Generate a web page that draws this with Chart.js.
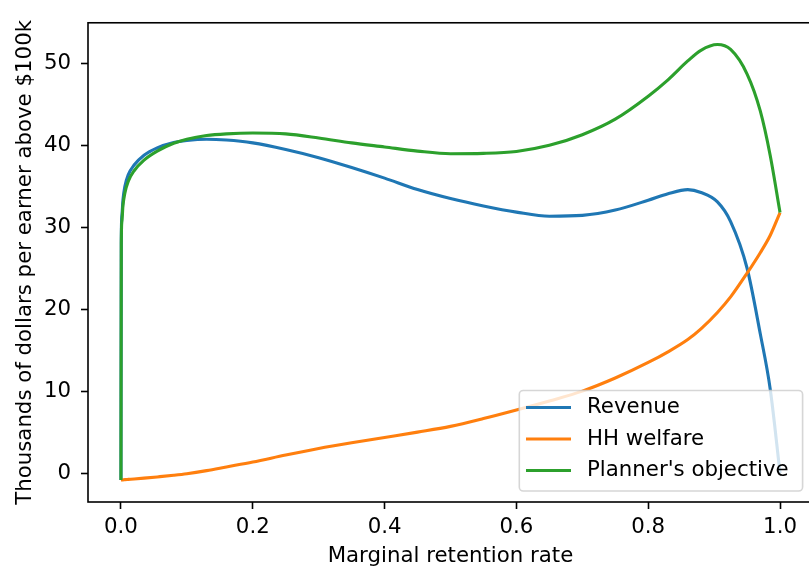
<!DOCTYPE html>
<html><head><meta charset="utf-8">
<script src="https://cdn.jsdelivr.net/npm/chart.js@4"></script>
<style>html,body{margin:0;padding:0;overflow:hidden;background:#fff;width:809px;height:571px}
canvas{display:block}</style></head>
<body><canvas id="c" width="813" height="571"></canvas>
<script>
const retention = [0, 0.0005, 0.0015, 0.003, 0.006, 0.011, 0.02, 0.035, 0.055, 0.08, 0.1, 0.13, 0.16, 0.2, 0.25, 0.3, 0.35, 0.4, 0.45, 0.5, 0.55, 0.6, 0.65, 0.7, 0.75, 0.8, 0.83, 0.86, 0.88, 0.905, 0.925, 0.95, 0.97, 0.985, 1.0];
const revenue = [-0.85, 28.5, 31.5, 33.3, 35.0, 36.4, 37.6, 38.8, 39.7, 40.35, 40.6, 40.75, 40.65, 40.3, 39.5, 38.5, 37.3, 36.0, 34.6, 33.5, 32.6, 31.85, 31.35, 31.45, 32.1, 33.3, 34.1, 34.6, 34.25, 33.1, 30.7, 25.0, 17.0, 10.3, 0.0];
const hhWelfare = [-0.85, -0.85, -0.84, -0.83, -0.8, -0.77, -0.72, -0.62, -0.47, -0.27, -0.08, 0.3, 0.75, 1.35, 2.2, 3.0, 3.7, 4.35, 5.0, 5.7, 6.65, 7.7, 8.8, 10.0, 11.6, 13.5, 14.8, 16.3, 17.6, 19.6, 21.5, 24.4, 26.9, 29.0, 31.8];
const planner = [-0.85, 28.0, 30.8, 32.6, 34.2, 35.6, 36.9, 38.2, 39.3, 40.25, 40.75, 41.2, 41.4, 41.5, 41.4, 40.9, 40.3, 39.8, 39.3, 38.98, 39.02, 39.25, 40.0, 41.3, 43.2, 46.0, 48.0, 50.3, 51.6, 52.3, 51.7, 48.7, 44.2, 38.8, 31.8];
const xTicks = [0, 0.2, 0.4, 0.6, 0.8, 1.0];
const yTicks = [0, 10, 20, 30, 40, 50];
const seriesLabels = ['Revenue', 'HH welfare', "Planner's objective"];
const seriesColors = ['#1f77b4', '#ff7f0e', '#2ca02c'];
const xTitle = 'Marginal retention rate';
const yTitle = 'Thousands of dollars per earner above $100k';

const FONT = {family: "'DejaVu Sans', sans-serif", size: 21.3};
const seriesValues = [revenue, hhWelfare, planner];

const datasets = seriesValues.map((vals, i) => ({
  label: seriesLabels[i],
  data: retention.map((x, j) => ({x: x, y: vals[j]})),
  borderColor: seriesColors[i],
  backgroundColor: seriesColors[i],
  borderWidth: 3.1,
  pointRadius: 0,
  fill: false,
  cubicInterpolationMode: 'monotone',
  order: 3 - i
}));

const framePlugin = {
  id: 'frame',
  afterDatasetsDraw(chart) {
    const {ctx, chartArea: a} = chart;
    ctx.save();
    ctx.strokeStyle = '#000';
    ctx.lineWidth = 1.6;
    ctx.strokeRect(a.left, a.top, a.right - a.left, a.bottom - a.top);
    ctx.restore();
  },
  afterDraw(chart) {
    const {ctx} = chart;
    const bx = 519.3, by = 390.5, bw = 283.3, bh = 100.5, r = 4;
    ctx.save();
    ctx.beginPath();
    ctx.moveTo(bx + r, by);
    ctx.arcTo(bx + bw, by, bx + bw, by + bh, r);
    ctx.arcTo(bx + bw, by + bh, bx, by + bh, r);
    ctx.arcTo(bx, by + bh, bx, by, r);
    ctx.arcTo(bx, by, bx + bw, by, r);
    ctx.closePath();
    ctx.fillStyle = 'rgba(255,255,255,0.8)';
    ctx.fill();
    ctx.strokeStyle = 'rgba(204,204,204,0.8)';
    ctx.lineWidth = 1.6;
    ctx.stroke();
    const rows = [407.5, 439, 470.5];
    chart.data.datasets.forEach((ds, i) => {
      ctx.beginPath();
      ctx.strokeStyle = ds.borderColor;
      ctx.lineWidth = 3.1;
      ctx.moveTo(526, rows[i]);
      ctx.lineTo(571, rows[i]);
      ctx.stroke();
      ctx.fillStyle = '#000';
      ctx.font = FONT.size + 'px ' + FONT.family;
      ctx.textBaseline = 'middle';
      ctx.textAlign = 'left';
      ctx.fillText(ds.label, 587, rows[i]);
    });
    ctx.restore();
  }
};

new Chart(document.getElementById('c'), {
  type: 'line',
  data: {datasets},
  options: {
    responsive: false,
    animation: false,
    events: [],
    layout: {padding: {top: 21, left: 0, right: 0, bottom: 0}},
    plugins: {legend: {display: false}, tooltip: {enabled: false}},
    scales: {
      x: {
        type: 'linear', min: -0.05, max: 1.05,
        afterBuildTicks: s => { s.ticks = xTicks.map(v => ({value: v})); },
        afterFit: s => { s.height = 69; },
        ticks: {color: '#000', font: FONT, padding: 6, maxRotation: 0, callback: v => v.toFixed(1)},
        grid: {display: true, drawOnChartArea: false, drawTicks: true, tickLength: 7, tickColor: '#000', tickWidth: 1.6},
        border: {display: false},
        title: {display: true, text: xTitle, color: '#000', font: FONT, padding: {top: 2, bottom: 2}}
      },
      y: {
        type: 'linear', min: -3.53, max: 54.96,
        afterBuildTicks: s => { s.ticks = yTicks.map(v => ({value: v})); },
        afterFit: s => { s.width = 88; },
        ticks: {color: '#000', font: FONT, padding: 10, callback: v => String(v)},
        grid: {display: true, drawOnChartArea: false, drawTicks: true, tickLength: 7, tickColor: '#000', tickWidth: 1.6},
        border: {display: false},
        title: {display: true, text: yTitle, color: '#000', font: FONT, padding: {top: 13, bottom: 0}}
      }
    }
  },
  plugins: [framePlugin]
});
</script>
</body></html>
